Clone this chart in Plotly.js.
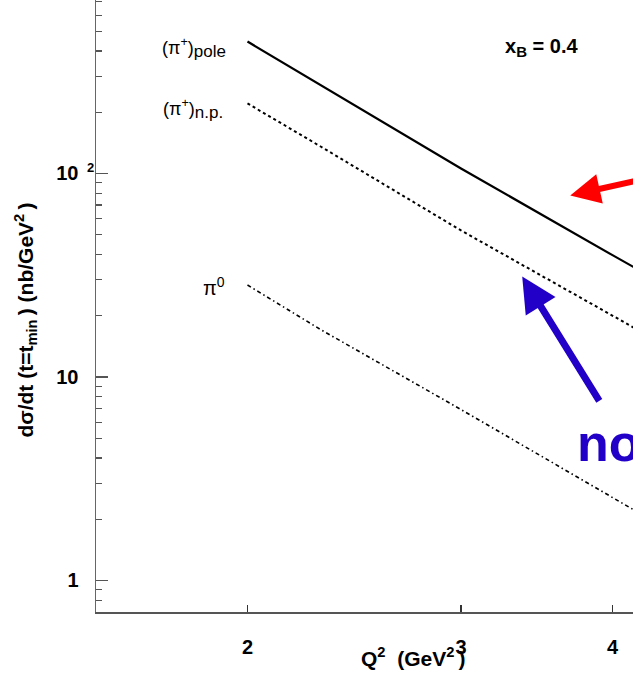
<!DOCTYPE html>
<html>
<head>
<meta charset="utf-8">
<script src="https://cdn.plot.ly/plotly-3.0.1.min.js"></script>
<style>
html,body{margin:0;padding:0;overflow:hidden;background:#fff;width:633px;height:678px;}
#chart{position:absolute;left:0;top:-30px;width:730px;height:720px;}
</style>
</head>
<body>
<div id="chart"></div>
<script>
// Q^2 values (GeV^2)
const q2 = [2.0, 2.298, 3.0, 4.0, 4.2];
// d sigma / dt at t = t_min (nb/GeV^2)
const piPlusPole = [445, 272, 105.8, 39.7, 33.7];
const piPlusNP   = [221, 135.7, 52.5, 19.9, 17.0];
const piZero     = [28.3, 17.1, 6.92, 2.56, 2.16];

const yTickVals = [1, 10, 100];
const yTickText = ['1', '10', '10'];
const xTickVals = [2, 3, 4];
const xTickText = ['2', '3', '4'];
const yMinorVals = [0.7,0.8,0.9,2,3,4,5,6,7,8,9,20,30,40,50,60,70,80,90,200,300,400,500,600,700,800,900];

const FONT = 'Liberation Sans, Arial, Helvetica, sans-serif';
const L = Math.log10;

const traces = [
  {x: q2, y: piPlusPole, mode: 'lines', line: {color: '#000', width: 2.2, dash: 'solid'}, name: 'pole'},
  {x: q2, y: piPlusNP, mode: 'lines', line: {color: '#000', width: 2, dash: '3px,3px'}, name: 'n.p.'},
  {x: q2, y: piZero, mode: 'lines', line: {color: '#000', width: 1.6, dash: '4px,3px,1.5px,3px'}, name: 'pi0'}
];

const layout = {
  width: 730, height: 720,
  margin: {l: 96, r: 0, t: 0, b: 78},
  paper_bgcolor: '#fff', plot_bgcolor: '#fff',
  showlegend: false,
  font: {family: FONT, color: '#000'},
  xaxis: {
    type: 'log', range: [L(1.5), L(5)],
    tickmode: 'array', tickvals: xTickVals, ticktext: xTickText,
    ticks: 'inside', ticklen: 7, tickwidth: 1.2, tickcolor: '#333',
    showline: true, linecolor: '#555', linewidth: 1.5,
    showgrid: false, zeroline: false,
    tickfont: {family: FONT, size: 20, color: '#000', weight: 'bold'},
    ticklabelstandoff: 16,
    title: {text: ''}
  },
  yaxis: {
    type: 'log', range: [L(0.7), 3],
    tickmode: 'array', tickvals: yTickVals, ticktext: yTickText,
    ticks: 'inside', ticklen: 12, tickwidth: 1.2, tickcolor: '#555',
    minor: {tickmode: 'array', tickvals: yMinorVals, ticks: 'inside', ticklen: 6, tickwidth: 1.2, tickcolor: '#555', showgrid: false},
    showline: true, linecolor: '#666', linewidth: 1.5,
    showgrid: false, zeroline: false,
    tickfont: {family: FONT, size: 20, color: '#000', weight: 'bold'},
    ticklabelstandoff: 12,
    title: {text: ''}
  },
  annotations: [
    // axis titles
    {xref: 'paper', yref: 'paper', x: 0.5, y: -0.070, xanchor: 'center', yanchor: 'middle', showarrow: false,
     text: '<b>Q<sup>2</sup>\u00a0\u00a0(GeV<sup>2</sup>\u2009)</b>', font: {family: FONT, size: 21, color: '#000'}},
    {xref: 'paper', yref: 'paper', x: -0.111, y: 0.455, xanchor: 'center', yanchor: 'middle', showarrow: false, textangle: -90,
     text: '<b>d\u03c3/dt (t=t<sub>min</sub>\u2009) (nb/GeV<sup>2</sup>\u2009)</b>', font: {family: FONT, size: 21, color: '#000'}},
    // exponent of the 10^2 tick label
    {xref: 'paper', yref: 'paper', x: -0.0079, y: 0.6924, xanchor: 'center', yanchor: 'middle', showarrow: false,
     text: '<b>2</b>', font: {family: FONT, size: 13, color: '#000'}},
    // curve labels
    {xref: 'x', yref: 'y', x: 0.2851, y: 2.619, xanchor: 'right', yanchor: 'middle', showarrow: false,
     text: '(\u03c0<sup>+</sup>)<sub><span style="font-size:17px">pole</span></sub>', font: {family: FONT, size: 18, color: '#000'}},
    {xref: 'x', yref: 'y', x: 0.2826, y: 2.319, xanchor: 'right', yanchor: 'middle', showarrow: false,
     text: '(\u03c0<sup>+</sup>)<sub><span style="font-size:17px">n.p.</span></sub>', font: {family: FONT, size: 18, color: '#000'}},
    {xref: 'x', yref: 'y', x: 0.2843, y: 1.445, xanchor: 'right', yanchor: 'middle', showarrow: false,
     text: '\u03c0<sup>0</sup>', font: {family: FONT, size: 20, color: '#000'}},
    {xref: 'x', yref: 'y', x: 0.5119, y: 2.619, xanchor: 'left', yanchor: 'middle', showarrow: false,
     text: '<b>x<sub><span style="font-size:15px">B</span></sub> = 0.4</b>', font: {family: FONT, size: 20, color: '#000'}},
    // arrows
    {xref: 'x', yref: 'y', x: 0.5672, y: 1.892, showarrow: true, text: '', ax: 130, ay: -29,
     arrowhead: 2, arrowsize: 1, arrowwidth: 6, arrowcolor: '#ff0000', standoff: 0},
    {xref: 'x', yref: 'y', x: 0.5276, y: 1.494, showarrow: true, text: '', ax: 78, ay: 126,
     arrowhead: 2, arrowsize: 1, arrowwidth: 7, arrowcolor: '#2200c8', standoff: 0},
    {xref: 'x', yref: 'y', x: 0.5713, y: 0.678, xanchor: 'left', yanchor: 'middle', showarrow: false,
     text: '<b>no</b>', font: {family: FONT, size: 52, color: '#2200c8'}}
  ]
};

Plotly.newPlot('chart', traces, layout, {displayModeBar: false, staticPlot: true});
</script>
</body>
</html>
